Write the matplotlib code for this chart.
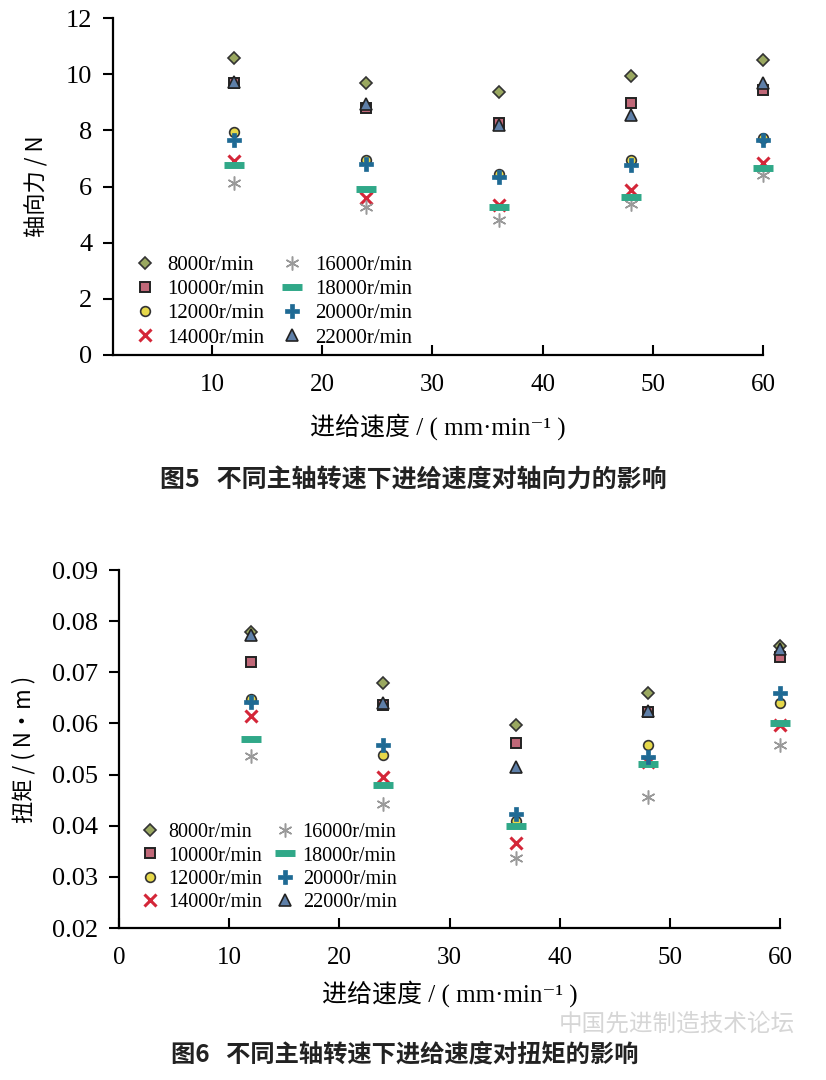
import matplotlib
matplotlib.use("Agg")
import matplotlib.pyplot as plt
import numpy as np

# feed speed (mm/min)
feed = [12, 24, 36, 48, 60]

speeds = ["8000r/min", "10000r/min", "12000r/min", "14000r/min",
          "16000r/min", "18000r/min", "20000r/min", "22000r/min"]

# axial force (N), one list per spindle speed
force_8000 = [10.58, 9.69, 9.38, 9.92, 10.50]
force_10000 = [9.68, 8.78, 8.25, 8.97, 9.45]
force_12000 = [7.94, 6.95, 6.45, 6.95, 7.72]
force_14000 = [6.92, 5.60, 5.35, 5.88, 6.82]
force_16000 = [6.12, 5.28, 4.80, 5.38, 6.42]
force_18000 = [6.78, 5.92, 5.27, 5.64, 6.65]
force_20000 = [7.65, 6.80, 6.35, 6.75, 7.65]
force_22000 = [9.72, 8.95, 8.20, 8.55, 9.68]

# torque (N*m)
torque_8000 = [0.0778, 0.0680, 0.0597, 0.0660, 0.0752]
torque_10000 = [0.0721, 0.0637, 0.0562, 0.0622, 0.0730]
torque_12000 = [0.0648, 0.0539, 0.0410, 0.0558, 0.0640]
torque_14000 = [0.0615, 0.0495, 0.0366, 0.0525, 0.0597]
torque_16000 = [0.0537, 0.0442, 0.0336, 0.0457, 0.0558]
torque_18000 = [0.0569, 0.0480, 0.0399, 0.0520, 0.0600]
torque_20000 = [0.0642, 0.0558, 0.0423, 0.0535, 0.0660]
torque_22000 = [0.0773, 0.0640, 0.0515, 0.0625, 0.0745]

force = [force_8000, force_10000, force_12000, force_14000,
         force_16000, force_18000, force_20000, force_22000]
torque = [torque_8000, torque_10000, torque_12000, torque_14000,
          torque_16000, torque_18000, torque_20000, torque_22000]

# marker styles for each series
styles = [
    dict(marker="D", ms=6, mfc="#9aa860", mec="#333333", mew=1.2),
    dict(marker="s", ms=7, mfc="#c06878", mec="#222222", mew=1.4),
    dict(marker="o", ms=7, mfc="#e6d84a", mec="#333333", mew=1.2),
    dict(marker="x", ms=9, mfc="none", mec="#d42638", mew=2.2),
    dict(marker=(6, 2, 0), ms=10, mfc="none", mec="#9a9a9a", mew=1.1),
    dict(marker="_", ms=14, mfc="none", mec="#30a888", mew=5),
    dict(marker="P", ms=10, mfc="#1f6a94", mec="#1f6a94", mew=0.5),
    dict(marker="^", ms=8, mfc="#5e7fa8", mec="#222222", mew=1.2),
]

serif = ["Liberation Serif", "DejaVu Serif"]
cjk = ["Noto Sans CJK SC", "DejaVu Sans"]
label_fam = ["Liberation Serif", "Noto Sans CJK SC", "DejaVu Serif"]

fig = plt.figure(figsize=(8.26, 10.8), dpi=100)
fig.patch.set_facecolor("white")


def style_axes(ax):
    for s in ["top", "right"]:
        ax.spines[s].set_visible(False)
    for s in ["left", "bottom"]:
        ax.spines[s].set_linewidth(1.6)
    ax.tick_params(axis="y", direction="out", length=7, width=1.5, pad=8,
                   labelsize=19)
    ax.tick_params(axis="x", direction="in", length=7, width=1.5, pad=14,
                   labelsize=18)
    for lab in ax.get_xticklabels() + ax.get_yticklabels():
        lab.set_family(serif)


# ---- figure 5: axial force ----
ax1 = fig.add_axes([0.1368, 0.6713, 0.7869, 0.312])
for vals, st, name in zip(force, styles, speeds):
    ax1.plot(feed, vals, ls="none", label=name, clip_on=False, **st)
ax1.set_xlim(1, 60)
ax1.set_ylim(0, 12)
ax1.set_xticks([10, 20, 30, 40, 50, 60])
ax1.set_yticks([0, 2, 4, 6, 8, 10, 12])
style_axes(ax1)
ax1.set_ylabel("轴向力 / N", family=cjk, fontsize=16, labelpad=12)
ax1.set_xlabel("进给速度 / ( mm·min⁻¹ )", family=label_fam, fontsize=18,
               labelpad=12)
ax1.legend(loc="upper left", bbox_to_anchor=(0.02, 0.32), ncol=2,
           frameon=False, prop={"family": serif, "size": 15},
           handlelength=1.0, handletextpad=0.6, columnspacing=0.8,
           labelspacing=0.22, borderaxespad=0)

fig.text(0.5, 1 - 481 / 1080, "图5   不同主轴转速下进给速度对轴向力的影响",
         ha="center", va="center", family=cjk, fontsize=18,
         fontweight="bold", color="#222222")

# ---- figure 6: torque ----
ax2 = fig.add_axes([0.1441, 0.1407, 0.8002, 0.3315])
for vals, st, name in zip(torque, styles, speeds):
    ax2.plot(feed, vals, ls="none", label=name, clip_on=False, **st)
ax2.set_xlim(0, 60)
ax2.set_ylim(0.02, 0.09)
ax2.set_xticks([0, 10, 20, 30, 40, 50, 60])
ax2.set_yticks(np.arange(0.02, 0.0901, 0.01))
ax2.yaxis.set_major_formatter(matplotlib.ticker.FormatStrFormatter("%.2f"))
style_axes(ax2)
ax2.set_ylabel("扭矩 / ( N·m )", family=cjk, fontsize=16, labelpad=12)
ax2.set_xlabel("进给速度 / ( mm·min⁻¹ )", family=label_fam, fontsize=18,
               labelpad=8)
ax2.legend(loc="upper left", bbox_to_anchor=(0.02, 0.315), ncol=2,
           frameon=False, prop={"family": serif, "size": 14.5},
           handlelength=1.0, handletextpad=0.4, columnspacing=0.6,
           labelspacing=0.2, borderaxespad=0)

fig.text(0.49, 1 - 1055 / 1080, "图6   不同主轴转速下进给速度对扭矩的影响",
         ha="center", va="center", family=cjk, fontsize=17.5,
         fontweight="bold", color="#222222")
fig.text(0.82, 1 - 1024 / 1080, "中国先进制造技术论坛", ha="center",
         va="center", family=cjk, fontsize=17, color="#cccccc", alpha=0.8)

fig.savefig("out.png", dpi=100, facecolor="white")
